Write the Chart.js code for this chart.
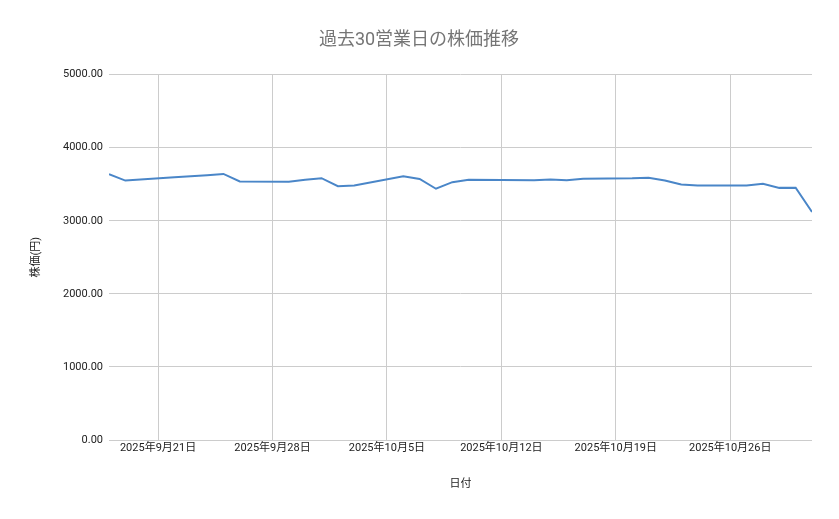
<!DOCTYPE html>
<html>
<head>
<meta charset="utf-8">
<script src="https://cdn.jsdelivr.net/npm/chart.js@4"></script>
<style>
  html, body { margin: 0; padding: 0; background: #fff; }
  #wrap { width: 839px; height: 519px; }
</style>
</head>
<body>
<div id="wrap"><canvas id="chart1"></canvas></div>
<script>
// Dates as day offsets from 2025-09-18 (business days only)
const startDate = new Date(2025, 8, 18);
const dayOffsets = [0, 1, 4, 6, 7, 8, 11, 12, 13, 14, 15, 18, 19, 20, 21, 22, 26, 27, 28, 29, 32, 33, 34, 35, 36, 39, 40, 41, 42, 43];
const prices = [3638, 3550, 3597, 3624, 3641, 3538, 3535, 3560, 3582, 3472, 3482, 3610, 3572, 3438, 3528, 3562,
                3555, 3565, 3556, 3574, 3580, 3588, 3551, 3497, 3482, 3482, 3506, 3450, 3452, 3120];
const tickDays = [3, 10, 17, 24, 31, 38]; // Sundays
const yTicks = [0, 1000, 2000, 3000, 4000, 5000];

const pointData = dayOffsets.map((d, i) => ({x: d, y: prices[i]}));

function dayLabel(d) {
    const dt = new Date(startDate.getTime());
    dt.setDate(dt.getDate() + d);
    return `${dt.getFullYear()}年${dt.getMonth() + 1}月${dt.getDate()}日`;
}

const font = "Roboto, 'Noto Sans CJK JP', sans-serif";

new Chart(document.getElementById('chart1'), {
    type: 'line',
    data: {
        datasets: [{
            label: '株価',
            data: pointData,
            borderColor: '#4a86c8',
            borderWidth: 2,
            pointRadius: 0,
            fill: false,
            tension: 0
        }]
    },
    options: {
        responsive: true,
        maintainAspectRatio: false,
        animation: false,
        layout: { padding: { left: 26, right: 27, top: 0, bottom: 24 } },
        plugins: {
            legend: { display: false },
            tooltip: { enabled: false },
            title: {
                display: true,
                text: '過去30営業日の株価推移',
                color: '#757575',
                font: { family: font, size: 18, weight: 'normal' },
                padding: { top: 30, bottom: 23 }
            }
        },
        scales: {
            x: {
                type: 'linear',
                min: 0,
                max: 43,
                afterBuildTicks: axis => { axis.ticks = tickDays.map(v => ({value: v})); },
                afterFit: axis => { axis.height = 55; },
                ticks: {
                    callback: v => dayLabel(v),
                    color: '#222',
                    font: { family: font, size: 11 },
                    maxRotation: 0,
                    padding: 2
                },
                grid: { color: '#cccccc', drawTicks: false },
                border: { display: false },
                title: {
                    display: true,
                    text: '日付',
                    color: '#222',
                    font: { family: font, size: 11 },
                    padding: { top: 22 }
                }
            },
            y: {
                min: 0,
                max: 5000,
                afterBuildTicks: axis => { axis.ticks = yTicks.map(v => ({value: v})); },
                afterFit: axis => { axis.width = 83; },
                ticks: {
                    callback: v => v.toFixed(2),
                    color: '#222',
                    font: { family: font, size: 11 },
                    padding: 6
                },
                grid: { color: '#cccccc', drawTicks: false },
                border: { display: false },
                title: {
                    display: true,
                    text: '株価(円)',
                    color: '#222',
                    font: { family: font, size: 11 },
                    padding: { bottom: 14 }
                }
            }
        }
    }
});
</script>
</body>
</html>
